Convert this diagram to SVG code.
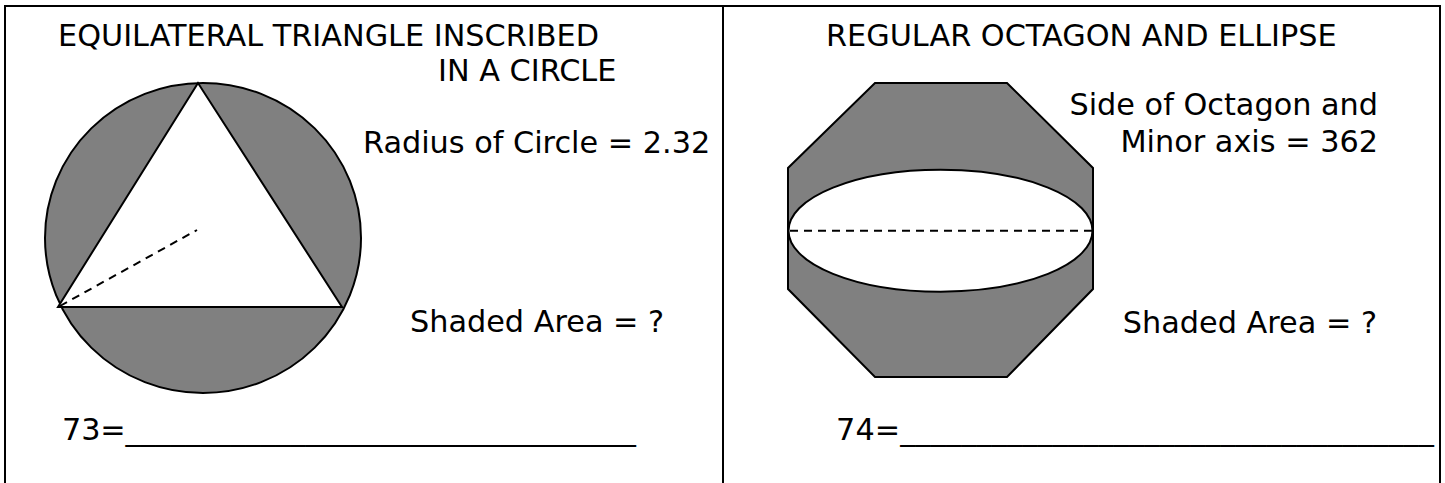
<svg xmlns="http://www.w3.org/2000/svg" width="1445" height="483" viewBox="0 0 1445 483">
<style>
text{font-family:"DejaVu Sans",Verdana,sans-serif;font-size:30.3px;fill:#000}
.sh{fill:#808080;stroke:#000;stroke-width:2}
.wh{fill:#fff;stroke:#000;stroke-width:2}
.dash{stroke:#000;stroke-width:2;stroke-dasharray:8,6;fill:none}
.frame{stroke:#000;stroke-width:2;fill:none}
</style>
<g id="frame">
<path class="frame" d="M5,490 V6 H1440 V490"/>
<line class="frame" x1="723" y1="6" x2="723" y2="490"/>
</g>
<g id="triangle-problem">
<ellipse class="sh" cx="203" cy="238" rx="158" ry="155"/>
<polygon class="wh" points="198,83 58,307 342,307"/>
<line class="dash" x1="60" y1="306" x2="197" y2="230"/>
<text x="58" y="46">EQUILATERAL TRIANGLE INSCRIBED</text>
<text x="438" y="81">IN A CIRCLE</text>
<text x="363" y="153">Radius of Circle = 2.32</text>
<text x="410" y="332">Shaded Area = ?</text>
<text x="62" y="440" textLength="574" lengthAdjust="spacing">73=__________________________________</text>
</g>
<g id="octagon-problem">
<polygon class="sh" points="875,83 1007,83 1093,168 1093,289 1007,377 875,377 788,289 788,168"/>
<ellipse class="wh" cx="940.5" cy="230.7" rx="152" ry="61"/>
<line class="dash" x1="790" y1="230.7" x2="1092" y2="230.7"/>
<text x="826" y="46">REGULAR OCTAGON AND ELLIPSE</text>
<text x="1378" y="115" text-anchor="end">Side of Octagon and</text>
<text x="1378" y="152" text-anchor="end">Minor axis = 362</text>
<text x="1377" y="333" text-anchor="end">Shaded Area = ?</text>
<text x="836" y="440" textLength="598" lengthAdjust="spacing">74=___________________________________</text>
</g>
</svg>
